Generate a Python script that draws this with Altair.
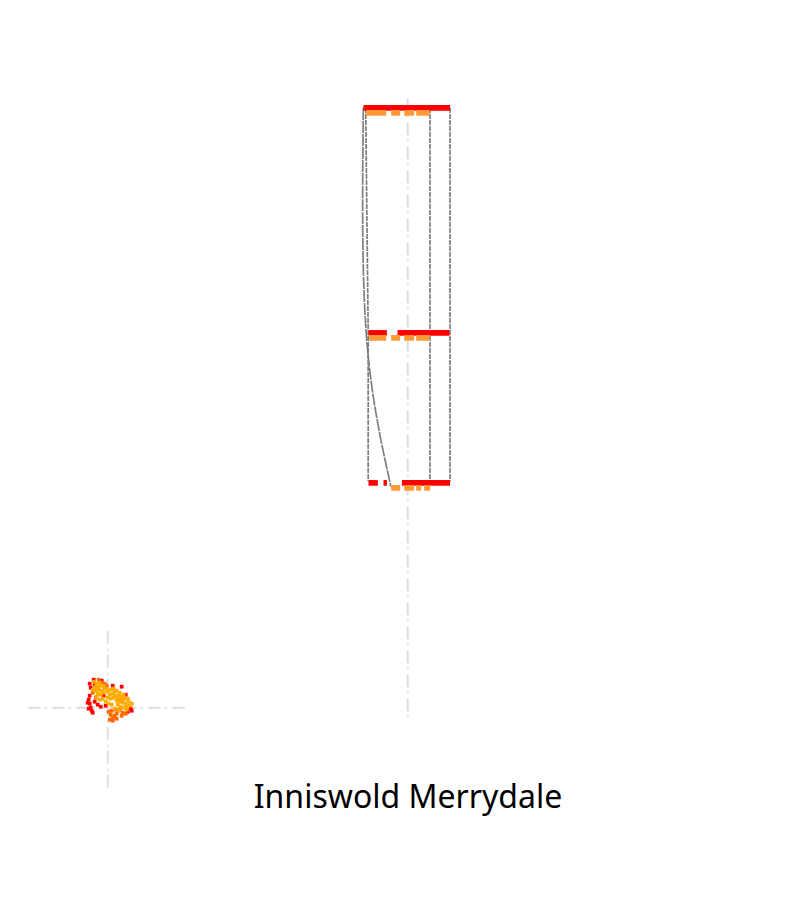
import pandas as pd
import altair as alt

# main panel: x = offset from the centre line, y = stage (0 / 60 / 100)
red_start = [-44.3, -39.2, -10.2, -39.2, -24.2, -5.8]
red_end = [42.4, -20.8, 41.8, -29.8, -20.8, 42.4]
red_level = [0, 60, 60, 100, 100, 100]

orange_start = [-41.5, -16.5, -3.5, 8.5, -38.5, -16.5, -3.5, 8.5, -16.5, -3.5, 8.5, 16.5]
orange_end = [-21.5, -7.5, 6.5, 21.8, -21.5, -7.5, 6.5, 21.8, -7.5, 6.5, 13.5, 22.5]
orange_level = [0, 0, 0, 0, 60, 60, 60, 60, 100, 100, 100, 100]

path_id = ["a", "a", "a", "b", "b", "c", "c"]
path_x = [-42.0, -39.5, -39.5, 22.3, 22.3, 42.3, 42.3]
path_y = [0, 60, 99.5, 0, 99.5, 0, 99.5]

curve_x = [-44.4, -41.5, -16.8]
curve_y = [0, 60, 101]

centre_y = [-2.6, 163.7]

# inset scatter (offsets from the inset crosshair)
amber_x = [-14, -11, -8, -12, -9, -6, -15, -12, -9, -6, -3, -10, -7, -4,
           0, 3, 6, 9, 12, 2, 5, 8, 11, 14, 17, 0, 3, 9, 12, 15, 18, 21,
           -2, 1, 4, 10, 13, 16, 19, 22, 7, 11, -5, -8, -13, 6, 15, 20,
           -1, 7, 10, 16, 24, 19, 13, -11, -4]
amber_y = [26, 24, 25, 21, 21, 22, 18, 17, 18, 17, 19, 14, 13, 15,
           16, 18, 19, 17, 15, 13, 14, 12, 12, 11, 9, 10, 9, 7, 6, 5, 4, 6,
           6, 4, 3, 3, 1, 0, 1, 2, -1, -3, 9, 8, 20, 10, 8, 9,
           19, 16, 9, 13, 4, -2, 8, 11, 22]
red_pt_x = [-18, -17, -14, -18, -19, -18, -17, -16, -19, -13, -10, -7,
            -4, -2, 5, 14, 18, 20, 23, 24, -13, -6, -20, -15]
red_pt_y = [24, 20, 28, 12, 8, 4, 0, -3, -1, 6, 3, 1,
            12, 2, 22, 21, 13, -4, -1, -3, 23, 27, 5, -5]
ored_x = [-9, -6, -3, -1, 1, 3, 5, 7, 9, 2, 5, 9, 12, 15, -15, -12, 14, 18, 4, 8]
ored_y = [28, 25, 24, 22, -4, -7, -10, -8, -6, -12, -13, -11, -2, -5, 15, 10, -8, -6, -3, -2]

title_text = "Inniswold Merrydale"

GRAY = "#7f7f7f"
GUIDE = "#dddddd"
DASHDOT = [13, 4, 2, 5]

red_df = pd.DataFrame({"x": red_start, "x2": red_end, "y": red_level})
orange_df = pd.DataFrame({"x": orange_start, "x2": orange_end, "y": orange_level})
path_df = pd.DataFrame({"id": path_id, "x": path_x, "y": path_y,
                        "i": range(len(path_x))})
curve_df = pd.DataFrame({"x": curve_x, "y": curve_y, "i": range(len(curve_x))})
centre_df = pd.DataFrame({"x": [0], "y": [centre_y[0]], "y2": [centre_y[1]]})

xs = alt.Scale(domain=[-50, 50], range=[349.7, 449.7])
ys = alt.Scale(domain=[0, 100], range=[99.9, 474.9])

centre = alt.Chart(centre_df).mark_rule(
    color=GUIDE, strokeWidth=2, strokeDash=DASHDOT
).encode(
    x=alt.X("x:Q", scale=xs, axis=None),
    y=alt.Y("y:Q", scale=ys, axis=None),
    y2="y2:Q",
)

paths = alt.Chart(path_df).mark_line(
    color=GRAY, strokeWidth=1.7, strokeDash=[5, 1]
).encode(
    x=alt.X("x:Q", scale=xs, axis=None),
    y=alt.Y("y:Q", scale=ys, axis=None),
    detail="id:N",
    order="i:Q",
)

curve = alt.Chart(curve_df).mark_line(
    color=GRAY, strokeWidth=1.7, interpolate="natural", strokeDash=[12, 1]
).encode(
    x=alt.X("x:Q", scale=xs, axis=None),
    y=alt.Y("y:Q", scale=ys, axis=None),
    order="i:Q",
)

red_bars = alt.Chart(red_df).mark_rule(color="#ff0000", strokeWidth=5.7).encode(
    x=alt.X("x:Q", scale=xs, axis=None),
    x2="x2:Q",
    y=alt.Y("y:Q", scale=ys, axis=None),
)

orange_bars = alt.Chart(orange_df).mark_rule(
    color="#ff9933", strokeWidth=5.7, yOffset=5
).encode(
    x=alt.X("x:Q", scale=xs, axis=None),
    x2="x2:Q",
    y=alt.Y("y:Q", scale=ys, axis=None),
)

main = alt.layer(centre, paths, curve, red_bars, orange_bars)

# inset
ixs = alt.Scale(domain=[-80, 80], range=[19.7, 179.7])
iys = alt.Scale(domain=[-80, 80], range=[779.7, 619.7])

cross_df = pd.DataFrame({"x": [-80, 0], "x2": [80, 0], "y": [0, -80], "y2": [0, 80]})
cross = alt.Chart(cross_df).mark_rule(
    color=GUIDE, strokeWidth=2, strokeDash=DASHDOT
).encode(
    x=alt.X("x:Q", scale=ixs, axis=None),
    x2="x2:Q",
    y=alt.Y("y:Q", scale=iys, axis=None),
    y2="y2:Q",
)

pts_df = pd.concat([
    pd.DataFrame({"x": red_pt_x, "y": red_pt_y, "g": "red"}),
    pd.DataFrame({"x": ored_x, "y": ored_y, "g": "ored"}),
    pd.DataFrame({"x": amber_x, "y": amber_y, "g": "amber"}),
])
pts = alt.Chart(pts_df).mark_square(size=14, opacity=1).encode(
    x=alt.X("x:Q", scale=ixs, axis=None),
    y=alt.Y("y:Q", scale=iys, axis=None),
    color=alt.Color("g:N", legend=None,
                    scale=alt.Scale(domain=["red", "ored", "amber"],
                                    range=["#ff0000", "#ff6600", "#ffaa00"])),
)

title = alt.Chart(pd.DataFrame({"t": [title_text]})).mark_text(
    font="Noto Sans", fontSize=32, color="black", align="center", baseline="alphabetic"
).encode(
    x=alt.value(400),
    y=alt.value(800),
    text="t:N",
)

inset = alt.layer(cross, pts, title)

chart = alt.layer(main, inset).resolve_scale(
    x="independent", y="independent", color="independent"
).properties(
    width=784, height=870, padding=0, autosize="none"
).configure_view(stroke=None)

chart.save("out.html", embed_options={"renderer": "svg", "actions": False})
